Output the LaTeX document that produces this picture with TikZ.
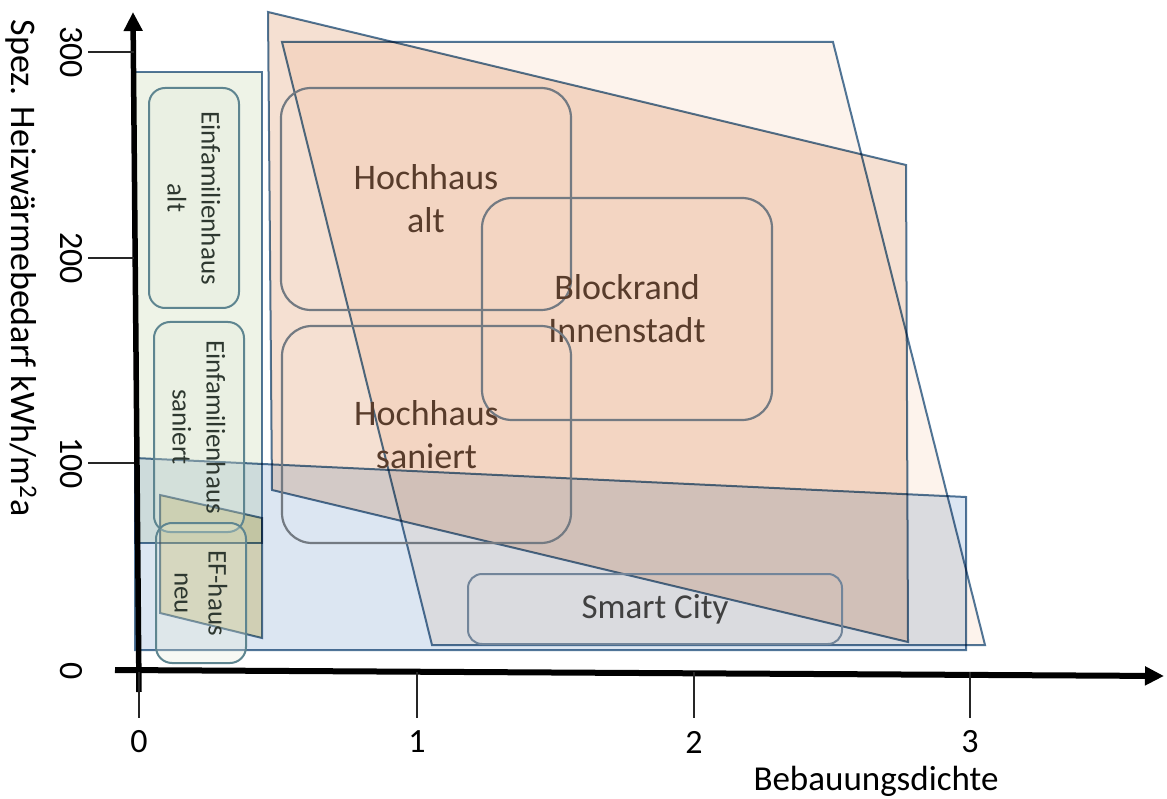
\documentclass[tikz,border=0pt]{standalone}
\usepackage{fontspec}
\setmainfont{Carlito}
\usetikzlibrary{arrows.meta}

\definecolor{zoneline}{HTML}{52779A}
\definecolor{boxline}{HTML}{737A82}
\definecolor{efline}{HTML}{5E8590}
\definecolor{cityline}{HTML}{72859A}
\definecolor{zoneB}{HTML}{FDF3EC}
\definecolor{zoneA}{HTML}{F5E0D2}
\definecolor{zoneblue}{HTML}{DCE6F2}
\definecolor{zonegreen}{HTML}{EEF3E7}
\definecolor{zonenew}{HTML}{F2E6BE}
\definecolor{efbg}{HTML}{E4ECDA}
\definecolor{browntext}{HTML}{583C2B}
\definecolor{greytext}{HTML}{404040}
\definecolor{eftext}{HTML}{2E3830}

\tikzset{
  zone/.style={draw=zoneline, line width=2pt, line join=miter, blend mode=multiply},
  hbox/.style={draw=boxline, line width=2.2pt, rounded corners=30pt, align=center,
    text=browntext, font=\fontsize{36}{43}\selectfont},
  citybox/.style={draw=cityline, line width=2pt, rounded corners=14pt, align=center,
    text=greytext, font=\fontsize{35}{43}\selectfont},
  efbox/.style={draw=efline, line width=2pt, rounded corners=16pt, fill=efbg,
    fill opacity=0.3, text opacity=1, align=center, rotate=-90, text=eftext,
    font=\fontsize{27}{34}\selectfont, minimum height=90pt},
  axisline/.style={line width=5.5pt, -{Triangle[length=19pt,width=18pt]}},
  tickline/.style={draw=black!85, line width=1.2pt},
  ticklabel/.style={font=\fontsize{34}{40}\selectfont},
}

\begin{document}
\begin{tikzpicture}[x=1pt, y=-1pt]
\useasboundingbox (0,0) rectangle (1167,799);

% building-type zones
\path[zone, fill=zoneB] (282,42) -- (833,42) -- (985,645) -- (432,645) -- cycle;
\path[zone, fill=zoneA] (268,12) -- (906,165) -- (908,642) -- (272,490) -- cycle;
\path[zone, fill=zoneblue] (135,458) -- (966,497) -- (966,650) -- (135,650) -- cycle;
\path[zone, fill=zonegreen] (135,72) rectangle (262,543);
\path[zone, fill=zonenew] (160,495) -- (262,518) -- (262,638) -- (160,613) -- cycle;

% single-family houses
\node[efbox, minimum width=220pt] (efalt) at (194,198) {Einfamilienhaus\\alt};
\node[efbox, minimum width=210pt] (efsan) at (199,427) {Einfamilienhaus\\saniert};
\node[efbox, minimum width=140pt] (efneu) at (201,593) {EF-haus\\neu};

% high-rise, perimeter block and smart city
\node[hbox, minimum width=290pt, minimum height=222pt] (hochalt) at (426,199) {Hochhaus\\alt};
\node[hbox, minimum width=290pt, minimum height=222pt] (block) at (627,309) {Blockrand\\Innenstadt};
\node[hbox, minimum width=289pt, minimum height=217pt] (hochsan) at (426.5,434.5) {Hochhaus\\saniert};
\node[citybox, minimum width=374pt, minimum height=70pt] (city) at (655,609) {Smart City};

% axes
\coordinate (xstart) at (115,670);
\coordinate (xend) at (1164,676);
\coordinate (ystart) at (139,692);
\coordinate (yend) at (133,12);
\draw[axisline, line width=6pt] (xstart) -- (xend);
\draw[axisline] (ystart) -- (yend);

% x ticks
\foreach \v/\px in {0/139, 1/417, 2/694, 3/970} {
  \coordinate (xt\v) at (\px,672);
  \coordinate (xb\v) at (\px,718);
  \draw[tickline] (xt\v) -- (xb\v);
  \node[ticklabel] (xl\v) at (\px,742) {\v};
}
% y ticks
\foreach \v/\py in {300/52, 200/258, 100/463} {
  \coordinate (yl\v) at (88,\py);
  \coordinate (yr\v) at (134,\py);
  \draw[tickline] (yl\v) -- (yr\v);
  \node[ticklabel, rotate=-90] (ylab\v) at (71,\py) {\v};
}
\node[ticklabel, rotate=-90] (ylab0) at (71,671) {0};

% axis titles
\node[font=\fontsize{35}{42}\selectfont] (xtitle) at (876,781) {Bebauungsdichte};
\node[font=\fontsize{36}{42}\selectfont, rotate=-90] (ytitle) at (21,268)
  {Spez. Heizwärmebedarf kWh/m\textsuperscript{2}a};
\end{tikzpicture}
\end{document}
